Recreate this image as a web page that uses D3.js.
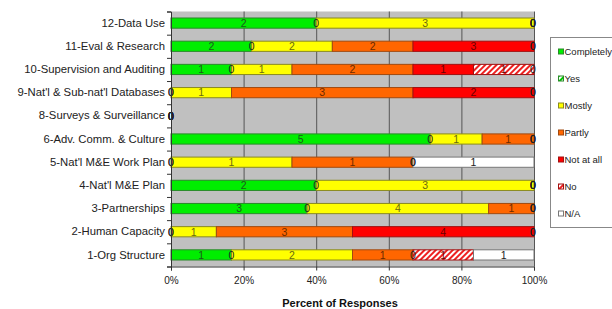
<!DOCTYPE html>
<html>
<head>
<meta charset="utf-8">
<script src="https://cdn.jsdelivr.net/npm/d3@7"></script>
<style>
  body { margin: 0; background: #fff; }
  svg { font-family: "Liberation Sans", Arial, sans-serif; }
</style>
</head>
<body>
<div id="chart"></div>
<script>
// rows listed top to bottom
const categories = [
  "12-Data Use", "11-Eval & Research", "10-Supervision and Auditing",
  "9-Nat'l & Sub-nat'l Databases", "8-Surveys & Surveillance",
  "6-Adv. Comm. & Culture", "5-Nat'l M&E Work Plan", "4-Nat'l M&E Plan",
  "3-Partnerships", "2-Human Capacity", "1-Org Structure"
];
const seriesNames = ["Completely", "Yes", "Mostly", "Partly", "Not at all", "No", "N/A"];
const completely = [2, 2, 1, 0, 0, 5, 0, 2, 3, 0, 1];
const yes        = [0, 0, 0, 0, 0, 0, 0, 0, 0, 0, 0];
const mostly     = [3, 2, 1, 1, 0, 1, 1, 3, 4, 1, 2];
const partly     = [0, 2, 2, 3, 0, 1, 1, 0, 1, 3, 1];
const notAtAll   = [0, 3, 1, 2, 0, 0, 0, 0, 0, 4, 0];
const no         = [0, 0, 1, 0, 0, 0, 0, 0, 0, 0, 1];
const na         = [0, 0, 0, 0, 0, 0, 1, 0, 0, 0, 1];
const xTicks = [0, 0.2, 0.4, 0.6, 0.8, 1];

const seriesValues = [completely, yes, mostly, partly, notAtAll, no, na];
const fills = ["#00ee00", "url(#hatchYes)", "#ffff00", "#ff6600", "#ff0000", "url(#hatchNo)", "#ffffff"];
const strokes = ["#2a8a2a", "#2a8a2a", "#8a8a20", "#a04a10", "#a01010", "#a01010", "#777"];
const labelColors = ["#1d5a1d", "#1d5a1d", "#6a6a10", "#6a2a00", "#6a0000", "#6a0000", "#222"];

const width = 612, height = 309;
const svg = d3.select("#chart").append("svg")
  .attr("width", width).attr("height", height);

const defs = svg.append("defs");
function hatch(id, color) {
  const p = defs.append("pattern").attr("id", id)
    .attr("patternUnits", "userSpaceOnUse")
    .attr("width", 4).attr("height", 4)
    .attr("patternTransform", "rotate(45)");
  p.append("rect").attr("width", 4).attr("height", 4).attr("fill", "#fff");
  p.append("rect").attr("width", 2).attr("height", 4).attr("fill", color);
}
hatch("hatchNo", "#ee2020");
hatch("hatchYes", "#00cc00");

const plotLeft = 171, plotRight = 534, plotTop = 11.5, plotBottom = 266.5;
const x = d3.scaleLinear().domain([0, 1]).range([plotLeft, plotRight]);
const y = d3.scaleBand().domain(categories).range([plotTop, plotBottom])
  .paddingInner(0.56).paddingOuter(0.28);
const yEdge = d3.scaleLinear().domain([0, categories.length]).range([plotTop, plotBottom]);

// plot background
svg.append("rect")
  .attr("x", plotLeft).attr("y", plotTop)
  .attr("width", plotRight - plotLeft).attr("height", plotBottom - plotTop)
  .attr("fill", "#c0c0c0");

// vertical gridlines
svg.append("g")
  .attr("transform", `translate(0,${plotBottom})`)
  .call(d3.axisBottom(x).tickValues(xTicks.slice(1)).tickSize(-(plotBottom - plotTop)).tickFormat(""))
  .call(g => g.select(".domain").remove())
  .call(g => g.selectAll("line").attr("stroke", "#555"));

// stacked bars
const rows = categories.map((c, i) => {
  const vals = seriesValues.map(s => s[i]);
  const total = d3.sum(vals);
  let acc = 0;
  return vals.map((v, k) => {
    const x0 = total ? acc / total : 0;
    acc += v;
    const x1 = total ? acc / total : 0;
    return { cat: c, k, v, x0, x1 };
  });
});

const barG = svg.append("g");
rows.forEach(segs => {
  segs.filter(d => d.v > 0).forEach(d => {
    barG.append("rect")
      .attr("x", x(d.x0)).attr("y", y(d.cat))
      .attr("width", x(d.x1) - x(d.x0)).attr("height", y.bandwidth())
      .attr("fill", fills[d.k])
      .attr("stroke", strokes[d.k]).attr("stroke-width", 1);
  });
});

// value labels (zeros included, as in the original)
const labelG = svg.append("g").attr("font-size", 10.5).attr("text-anchor", "middle");
rows.forEach(segs => {
  segs.forEach(d => {
    labelG.append("text")
      .attr("x", x((d.x0 + d.x1) / 2) - (d.v === 0 && d.x1 === 1 ? 1 : 0))
      .attr("y", y(d.cat) + y.bandwidth() / 2)
      .attr("dy", "0.36em")
      .attr("fill", d.v === 0 ? "#222" : labelColors[d.k])
      .text(d.v);
  });
});

// left axis with category labels
svg.append("g")
  .attr("transform", `translate(${plotLeft},0)`)
  .call(d3.axisLeft(yEdge).tickValues(d3.range(categories.length + 1)).tickSize(4).tickFormat(""))
  .call(g => g.selectAll("line, path").attr("stroke", "#333"));
svg.append("g")
  .attr("transform", `translate(${plotLeft},0)`)
  .call(d3.axisLeft(y).tickSize(0).tickPadding(6))
  .call(g => g.select(".domain").remove())
  .call(g => g.selectAll("text").attr("font-size", 11.3).attr("fill", "#222")
    .attr("font-family", "Liberation Sans, Arial, sans-serif"));

// bottom axis
svg.append("g")
  .attr("transform", `translate(0,${plotBottom})`)
  .call(d3.axisBottom(x).tickValues(xTicks).tickSize(4).tickPadding(6).tickFormat(d3.format(".0%")))
  .call(g => g.selectAll("line, path").attr("stroke", "#333"))
  .call(g => g.selectAll("text").attr("font-size", 10).attr("fill", "#222")
    .attr("font-family", "Liberation Sans, Arial, sans-serif"));

svg.append("text")
  .attr("x", 340).attr("y", 306.5)
  .attr("text-anchor", "middle").attr("font-size", 11).attr("font-weight", "bold")
  .attr("fill", "#111")
  .text("Percent of Responses");

// legend
const legend = svg.append("g");
legend.append("rect")
  .attr("x", 550.5).attr("y", 37.5).attr("width", 80).attr("height", 190)
  .attr("fill", "#fff").attr("stroke", "#888");
seriesNames.forEach((name, k) => {
  const ly = 51.5 + k * 27;
  legend.append("rect")
    .attr("x", 558.5).attr("y", ly - 2.5).attr("width", 5).attr("height", 5)
    .attr("fill", fills[k]).attr("stroke", strokes[k]);
  legend.append("text")
    .attr("x", 564.5).attr("y", ly).attr("dy", "0.35em")
    .attr("font-size", 9.5).attr("fill", "#222")
    .text(name);
});
</script>
</body>
</html>
